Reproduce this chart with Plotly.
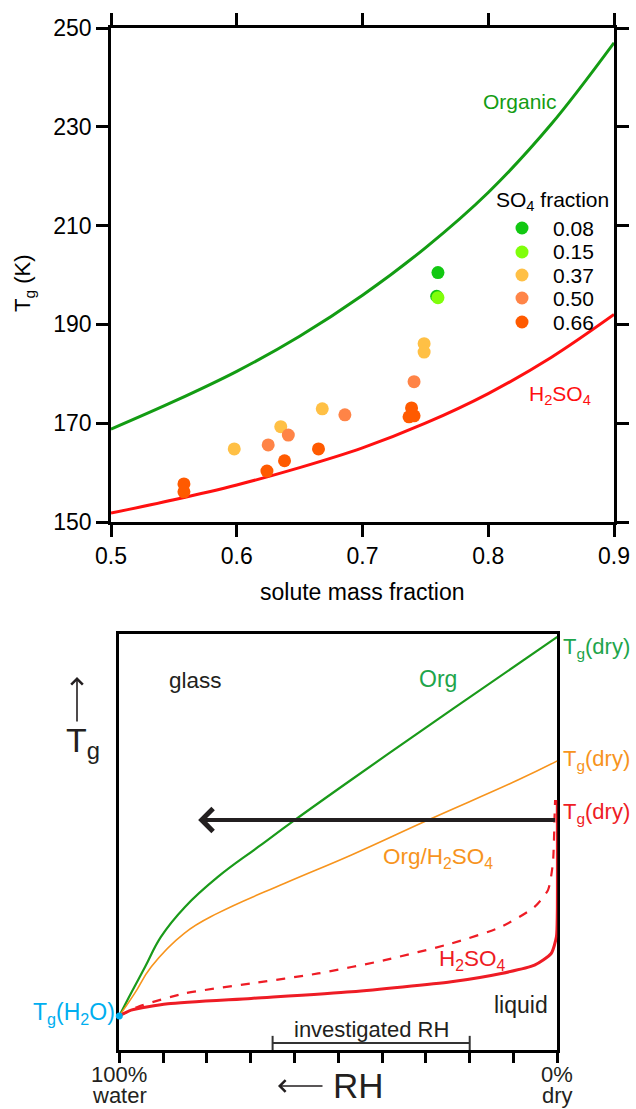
import plotly.graph_objects as go

W, H = 636, 1109
FONT = "Liberation Sans, Arial, Helvetica, sans-serif"
DARK = "#231f20"

# ---------------- top panel data ----------------
mass_frac_curve = [0.50, 0.55, 0.60, 0.65, 0.70, 0.75, 0.80, 0.85, 0.90]
tg_organic = [168.8, 174.4, 180.5, 187.6, 195.9, 205.5, 216.7, 230.5, 247.0]
tg_h2so4 = [151.8, 154.5, 157.5, 161.0, 165.0, 170.0, 176.0, 183.3, 192.0]

so4_labels = ["0.08", "0.15", "0.37", "0.50", "0.66"]
so4_colors = ["#12c812", "#80ff0a", "#ffc045", "#ff8447", "#ff5a00"]
pts_x = [
    [0.760, 0.759],
    [0.760],
    [0.749, 0.749, 0.668, 0.635, 0.598],
    [0.741, 0.686, 0.641, 0.625],
    [0.739, 0.737, 0.741, 0.665, 0.638, 0.624, 0.558, 0.558],
]
pts_y = [
    [200.5, 195.7],
    [195.4],
    [186.1, 184.4, 172.9, 169.3, 164.8],
    [178.4, 171.7, 167.6, 165.6],
    [173.1, 171.3, 171.5, 164.8, 162.4, 160.3, 157.7, 156.1],
]

# ---------------- bottom panel (schematic) data ----------------
org_rh = [100, 97.3, 94.1, 90.5, 85.0, 77.5, 68.3, 59.9, 47.1, 23.6, 0]
org_tg = [0.082, 0.137, 0.200, 0.272, 0.344, 0.416, 0.488, 0.553, 0.649, 0.822, 0.993]

mix_rh = [100, 96.5, 92.7, 85.1, 77.5, 62.2, 47.0, 29.5, 9.0, 0]
mix_tg = [0.082, 0.136, 0.200, 0.281, 0.329, 0.401, 0.469, 0.553, 0.649, 0.695]

h2so4_dash_rh = [100, 95.7, 85.1, 69.9, 54.6, 39.4, 24.2, 12.8, 5.2, 2.1, 1.0, 0.6, 0.5]
h2so4_dash_tg = [0.082, 0.104, 0.136, 0.160, 0.184, 0.216, 0.256, 0.296, 0.344, 0.385, 0.450, 0.570, 0.601]

h2so4_rh = [100, 97.3, 88.9, 69.9, 47.0, 24.2, 12.8, 5.2, 1.4, 0.2, 0.0, 0.0]
h2so4_tg = [0.082, 0.096, 0.111, 0.124, 0.140, 0.164, 0.184, 0.204, 0.232, 0.272, 0.330, 0.601]

water_rh = [100]
water_tg = [0.082]

rh_ticks = [100, 90, 80, 70, 60, 50, 40, 30, 20, 10, 0]
rh_end_labels = [("100%", "water", 100), ("0%", "dry", 0)]

investigated_rh = [65, 20]
arrow_tg = 0.553
arrow_rh = [82.0, 0.2]


def px_x(p):
    return p / W


def px_y(p):
    return 1 - p / H


fig = go.Figure()

# top panel curves
fig.add_trace(go.Scatter(x=mass_frac_curve, y=tg_organic, mode="lines", line=dict(color="#139c13", width=3, shape="spline"),
                         showlegend=False, xaxis="x", yaxis="y"))
fig.add_trace(go.Scatter(x=mass_frac_curve, y=tg_h2so4, mode="lines", line=dict(color="#ff1010", width=3, shape="spline"),
                         showlegend=False, xaxis="x", yaxis="y"))
for lab, col, xs, ys in zip(so4_labels, so4_colors, pts_x, pts_y):
    fig.add_trace(go.Scatter(x=xs, y=ys, mode="markers", name=lab, showlegend=False,
                             marker=dict(color=col, size=13, line=dict(width=0)),
                             xaxis="x", yaxis="y"))

# bottom panel curves
fig.add_trace(go.Scatter(x=org_rh, y=org_tg, mode="lines", line=dict(color="#1a9a1a", width=2.2, shape="spline", smoothing=1.2),
                         showlegend=False, xaxis="x2", yaxis="y2"))
fig.add_trace(go.Scatter(x=mix_rh, y=mix_tg, mode="lines", line=dict(color="#f7941d", width=1.6, shape="spline", smoothing=1.2),
                         showlegend=False, xaxis="x2", yaxis="y2"))
fig.add_trace(go.Scatter(x=h2so4_dash_rh, y=h2so4_dash_tg, mode="lines",
                         line=dict(color="#ee1c25", width=2.2, dash="dash", shape="spline", smoothing=0.6),
                         showlegend=False, xaxis="x2", yaxis="y2"))
fig.add_trace(go.Scatter(x=h2so4_rh, y=h2so4_tg, mode="lines", line=dict(color="#ee1c25", width=3, shape="spline", smoothing=0.6),
                         showlegend=False, xaxis="x2", yaxis="y2"))
fig.add_trace(go.Scatter(x=water_rh, y=water_tg, mode="markers", marker=dict(color="#00aeef", size=7),
                         showlegend=False, cliponaxis=False, xaxis="x2", yaxis="y2"))

axis_common = dict(showgrid=False, zeroline=False, linecolor="black", linewidth=2.5, ticks="outside",
                   tickcolor="black", tickwidth=2.5, ticklen=12, mirror="ticks", automargin=False,
                   tickfont=dict(family=FONT, size=23, color="black"))

fig.update_layout(
    width=W, height=H, margin=dict(l=0, r=0, t=0, b=0),
    paper_bgcolor="white", plot_bgcolor="white",
    font=dict(family=FONT, color="black"),
    showlegend=False,
    xaxis=dict(domain=[px_x(111), px_x(614)], range=[0.5, 0.9], dtick=0.1, tick0=0.5, tickformat=".1f",
               anchor="y", **axis_common),
    yaxis=dict(domain=[px_y(522), px_y(28)], range=[150, 250], dtick=20, tick0=150, anchor="x", **axis_common),
    xaxis2=dict(domain=[px_x(119.3), px_x(557.3)], range=[100, 0], anchor="y2", showgrid=False, zeroline=False,
                linecolor="black", linewidth=2.8, mirror=True, ticks="outside", ticklen=10, tickwidth=2.5,
                tickcolor="black", tickvals=rh_ticks, showticklabels=False, automargin=False, layer="below traces"),
    yaxis2=dict(domain=[px_y(1050), px_y(634)], range=[0, 1], anchor="x2", showgrid=False, zeroline=False,
                linecolor="black", linewidth=2.8, mirror=True, showticklabels=False, ticks="", automargin=False,
                layer="below traces"),
)

ann = []


def ptext(text, x, y, size, color, xanchor="center", yanchor="middle", **kw):
    ann.append(dict(text=text, xref="paper", yref="paper", x=px_x(x), y=px_y(y), xanchor=xanchor,
                    yanchor=yanchor, showarrow=False, font=dict(family=FONT, size=size, color=color), **kw))


def dtext(text, x, y, size, color):
    ann.append(dict(text=text, xref="x2", yref="y2", x=x, y=y, xanchor="center", yanchor="middle",
                    showarrow=False, font=dict(family=FONT, size=size, color=color)))


# top panel texts
ptext("T<sub>g</sub> (K)", 24, 284, 22, "black", textangle=-90)
ptext("solute mass fraction", 362, 592, 23, "black")
ptext("Organic", 520, 101, 21, "#139c13")
ptext("H<sub>2</sub>SO<sub>4</sub>", 560, 395, 21, "#ff1010")

# custom legend
ptext("SO<sub>4</sub> fraction", 494, 201, 21, "black", xanchor="left")
legend_rows = [228, 252, 275, 298, 322]
for lab, col, yy in zip(so4_labels, so4_colors, legend_rows):
    fig.add_shape(type="circle", xref="paper", yref="paper", x0=px_x(522 - 6.5), x1=px_x(522 + 6.5),
                  y0=px_y(yy + 6.5), y1=px_y(yy - 6.5), fillcolor=col, line=dict(width=0))
    ptext(lab, 551, yy, 21, "black", xanchor="left")

# bottom panel texts
dtext("glass", 82.5, 0.889, 22.5, DARK)
dtext("Org", 27.2, 0.892, 23, "#1ea54b")
dtext("Org/H<sub>2</sub>SO<sub>4</sub>", 27.3, 0.462, 22.5, "#f7941d")
dtext("H<sub>2</sub>SO<sub>4</sub>", 19.3, 0.216, 22.5, "#ee1c25")
dtext("liquid", 8.3, 0.108, 23, DARK)
dtext("investigated RH", sum(investigated_rh) / 2, 0.050, 22, DARK)
for txt_y, col in [(648, "#1ea54b"), (760, "#f7941d"), (813, "#ee1c25")]:
    ptext("T<sub>g</sub>(dry)", 561, txt_y, 22, col, xanchor="left")
ptext("T<sub>g</sub>(H<sub>2</sub>O)", 117, 1013, 23, "#00aeef", xanchor="right")

# end labels of the RH axis
for top_lab, bot_lab, rh in rh_end_labels:
    ann.append(dict(text=top_lab, xref="x2", yref="paper", x=rh, y=px_y(1074), xanchor="center", yanchor="middle",
                    showarrow=False, font=dict(family=FONT, size=22, color=DARK)))
    ann.append(dict(text=bot_lab, xref="x2", yref="paper", x=rh, y=px_y(1095), xanchor="center", yanchor="middle",
                    showarrow=False, font=dict(family=FONT, size=22, color=DARK)))

ptext("RH", 358, 1085, 35, DARK)
ptext("T<sub>g</sub>", 83, 742, 34, DARK)

# small arrows
ann.append(dict(text="", xref="paper", yref="paper", x=px_x(278), y=px_y(1086), ax=46, ay=0,
                showarrow=True, arrowhead=4, arrowsize=1.4, arrowwidth=1.6, arrowcolor=DARK, standoff=0))
ann.append(dict(text="", xref="paper", yref="paper", x=px_x(77), y=px_y(677), ax=0, ay=46,
                showarrow=True, arrowhead=4, arrowsize=1.4, arrowwidth=1.6, arrowcolor=DARK, standoff=0))
# big horizontal arrow
ann.append(dict(text="", xref="x2", yref="y2", axref="x2", ayref="y2", x=arrow_rh[0], y=arrow_tg,
                ax=arrow_rh[1], ay=arrow_tg, showarrow=True, arrowhead=4, arrowsize=1.1, arrowwidth=4,
                arrowcolor=DARK, standoff=0))
fig.update_layout(annotations=ann)

# investigated RH bracket
br_col = "#333333"
fig.add_shape(type="line", xref="x2", yref="y2", x0=investigated_rh[0], x1=investigated_rh[1], y0=0.017, y1=0.017,
              line=dict(color=br_col, width=2))
for r in investigated_rh:
    fig.add_shape(type="line", xref="x2", yref="y2", x0=r, x1=r, y0=0.0, y1=0.034, line=dict(color=br_col, width=2))

fig.write_html("out.html", config={"displayModeBar": False},
               post_script="document.body.style.margin='0px';document.body.style.padding='0px';")
